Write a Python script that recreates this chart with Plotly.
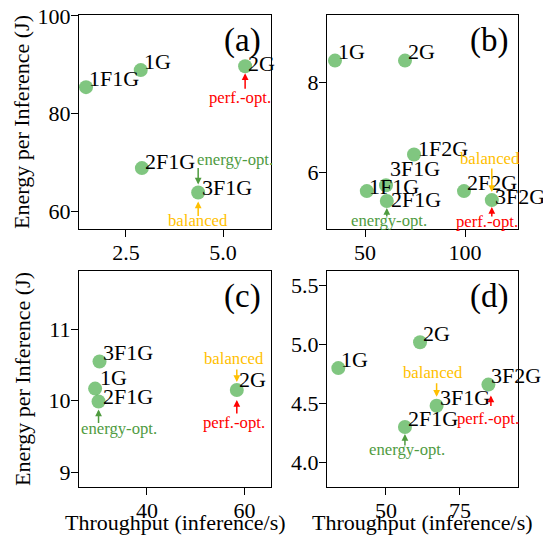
import plotly.graph_objects as go

FONT = "Liberation Serif"

# ---------------- data ----------------
a_labels = ["1F1G", "1G", "2G", "2F1G", "3F1G"]
a_throughput = [1.47, 2.88, 5.57, 2.91, 4.36]
a_energy = [85.4, 88.9, 89.7, 68.8, 63.8]
a_tags = [("2G", "perf.-opt."), ("3F1G", "energy-opt."), ("3F1G", "balanced")]

b_labels = ["1G", "2G", "1F2G", "1F1G", "3F1G", "2F1G", "2F2G", "3F2G"]
b_throughput = [35.0, 70.0, 74.5, 50.9, 60.5, 60.9, 99.5, 113.4]
b_energy = [8.48, 8.48, 6.40, 5.59, 5.72, 5.37, 5.59, 5.39]
b_tags = [("2F1G", "energy-opt."), ("3F2G", "balanced"), ("3F2G", "perf.-opt.")]

c_labels = ["3F1G", "1G", "2F1G", "2G"]
c_throughput = [30.3, 29.4, 30.1, 58.4]
c_energy = [10.55, 10.17, 9.99, 10.15]
c_tags = [("2F1G", "energy-opt."), ("2G", "balanced"), ("2G", "perf.-opt.")]

d_labels = ["1G", "2G", "3F2G", "3F1G", "2F1G"]
d_throughput = [33.9, 61.5, 84.6, 67.1, 56.4]
d_energy = [4.80, 5.02, 4.66, 4.48, 4.30]
d_tags = [("3F1G", "balanced"), ("3F2G", "perf.-opt."), ("2F1G", "energy-opt.")]

a_xticks = [2.5, 5.0]; a_yticks = [60, 80, 100]
b_xticks = [50, 100]; b_yticks = [6, 8]
c_xticks = [40, 60]; c_yticks = [9, 10, 11]
d_xticks = [50, 75]; d_yticks = [4.0, 4.5, 5.0, 5.5]

x_title = "Throughput (inference/s)"
y_title = "Energy per Inference (J)"

# ---------------- style ----------------
MARKER = "rgba(44,160,44,0.6)"
TAG_COLORS = {"perf.-opt.": "#ff0000", "energy-opt.": "#4f9b3f", "balanced": "#ffbf00"}

panels = [
    dict(key="a", labels=a_labels, x=a_throughput, y=a_energy, tags=a_tags,
         xticks=a_xticks, yticks=a_yticks, xfmt="{:.1f}", yfmt="{:d}",
         xdom=[79/543, 271/543], ydom=[1-229/538, 1-15/538],
         xr=[1.289, 6.237], yr=[56.31, 100.2]),
    dict(key="b", labels=b_labels, x=b_throughput, y=b_energy, tags=b_tags,
         xticks=b_xticks, yticks=b_yticks, xfmt="{:d}", yfmt="{:d}",
         xdom=[327/543, 518/543], ydom=[1-229/538, 1-15/538],
         xr=[31.0, 126.5], yr=[4.75, 9.49]),
    dict(key="c", labels=c_labels, x=c_throughput, y=c_energy, tags=c_tags,
         xticks=c_xticks, yticks=c_yticks, xfmt="{:d}", yfmt="{:d}",
         xdom=[79/543, 271/543], ydom=[1-487/538, 1-271/538],
         xr=[26.1, 65.4], yr=[8.79, 11.82]),
    dict(key="d", labels=d_labels, x=d_throughput, y=d_energy, tags=d_tags,
         xticks=d_xticks, yticks=d_yticks, xfmt="{:d}", yfmt="{:.1f}",
         xdom=[327/543, 518/543], ydom=[1-487/538, 1-271/538],
         xr=[30.07, 94.6], yr=[3.79, 5.625]),
]

# label offsets (dx right, dy down of baseline, px)
LABEL_OFF = {
    ("a", "2G"): (2, 6), ("a", "3F1G"): (3, 4), ("a", "2F1G"): (2, 2),
    ("b", "1F1G"): (1, 4), ("b", "2F1G"): (3, 7), ("b", "3F1G"): (3, -8),
    ("b", "3F2G"): (2, 5), ("b", "1F2G"): (3, 3),
    ("c", "2F1G"): (3, 4), ("c", "1G"): (4, -2), ("c", "2G"): (1, -2),
}
# arrow: (tail dy, standoff, xshift); text centre offset (dx, dy)
TAG_STYLE = {
    ("a", "perf.-opt."): (24, 7, 0, -5.5, 33),
    ("a", "energy-opt."): (-26, 8, 0, 37, -31),
    ("a", "balanced"): (25, 9, 0, 0, 30),
    ("b", "energy-opt."): (17, 7, 0, 2, 21),
    ("b", "balanced"): (-33, 8, 0, -2, -40),
    ("b", "perf.-opt."): (18, 7, 0, -4.4, 23),
    ("c", "energy-opt."): (23, 8, 0, 20, 29),
    ("c", "balanced"): (-22, 8, 0, -2.7, -30),
    ("c", "perf.-opt."): (25, 10, 0, -2.7, 34),
    ("d", "balanced"): (-24, 9, 0, -3.4, -31.7),
    ("d", "perf.-opt."): (23, 11, 2.5, 0, 36),
    ("d", "energy-opt."): (20, 7, 0, 1.7, 24),
}

fig = go.Figure()
annotations = []
LBL = 22
SMALL = 16.7

for i, p in enumerate(panels, start=1):
    xa = "x" if i == 1 else f"x{i}"
    ya = "y" if i == 1 else f"y{i}"
    fig.add_trace(go.Scatter(
        x=p["x"], y=p["y"], mode="markers", xaxis=xa, yaxis=ya,
        marker=dict(size=14, color=MARKER, line=dict(width=0)),
        hoverinfo="skip", cliponaxis=False))
    axsuf = "" if i == 1 else str(i)
    common = dict(showline=True, linecolor="black", linewidth=1.3, mirror=True,
                  ticks="outside", ticklen=7, tickwidth=1.3, tickcolor="black",
                  showgrid=False, zeroline=False, automargin=False,
                  tickfont=dict(family=FONT, size=LBL, color="black"))
    fig.layout["xaxis" + axsuf] = dict(
        common, domain=p["xdom"], range=p["xr"], anchor=ya,
        tickvals=p["xticks"], ticktext=[p["xfmt"].format(v) for v in p["xticks"]],
        ticklabelstandoff=-4)
    fig.layout["yaxis" + axsuf] = dict(
        common, domain=p["ydom"], range=p["yr"], anchor=xa,
        tickvals=p["yticks"], ticktext=[p["yfmt"].format(v) for v in p["yticks"]],
        ticklabelstandoff=-4)

    lookup = dict(zip(p["labels"], zip(p["x"], p["y"])))
    for name, xv, yv in zip(p["labels"], p["x"], p["y"]):
        dx, dy = LABEL_OFF.get((p["key"], name), (2, 0))
        annotations.append(dict(
            x=xv, y=yv, xref=xa, yref=ya, text=name, showarrow=False,
            xanchor="left", yanchor="bottom", xshift=dx - 1, yshift=-5.8 - dy,
            font=dict(family=FONT, size=LBL, color="black")))

    for name, tag in p["tags"]:
        xv, yv = lookup[name]
        tail, stand, xs, tdx, tdy = TAG_STYLE[(p["key"], tag)]
        col = TAG_COLORS[tag]
        annotations.append(dict(
            x=xv, y=yv, xref=xa, yref=ya, text="", showarrow=True,
            ax=0, ay=tail, xshift=xs, standoff=stand, arrowhead=2,
            arrowsize=0.9, arrowwidth=1.5, arrowcolor=col))
        annotations.append(dict(
            x=xv, y=yv, xref=xa, yref=ya, text=tag, showarrow=False,
            xanchor="center", yanchor="middle", xshift=tdx, yshift=-tdy + 1.7,
            font=dict(family=FONT, size=SMALL, color=col)))

    annotations.append(dict(
        x=0.958, y=0.975, xref=xa + " domain", yref=ya + " domain",
        text=f"({p['key']})", showarrow=False, xanchor="right", yanchor="top",
        font=dict(family=FONT, size=33, color="black")))

# axis titles
for yc in [122, 379]:
    annotations.append(dict(
        x=22/543, y=1 - yc/538, xref="paper", yref="paper", text=y_title,
        showarrow=False, textangle=-90, xanchor="center", yanchor="middle",
        font=dict(family=FONT, size=LBL, color="black")))
for xc in [175, 422.5]:
    annotations.append(dict(
        x=xc/543, y=1 - 522/538, xref="paper", yref="paper", text=x_title,
        showarrow=False, xanchor="center", yanchor="middle",
        font=dict(family=FONT, size=LBL, color="black")))

fig.update_layout(
    width=543, height=538, margin=dict(l=0, r=0, t=0, b=0, autoexpand=False),
    paper_bgcolor="white", plot_bgcolor="white", showlegend=False,
    annotations=annotations)

fig.write_html("out.html", config={"displayModeBar": False},
               post_script="document.body.style.margin='0';document.body.style.overflow='hidden';")
